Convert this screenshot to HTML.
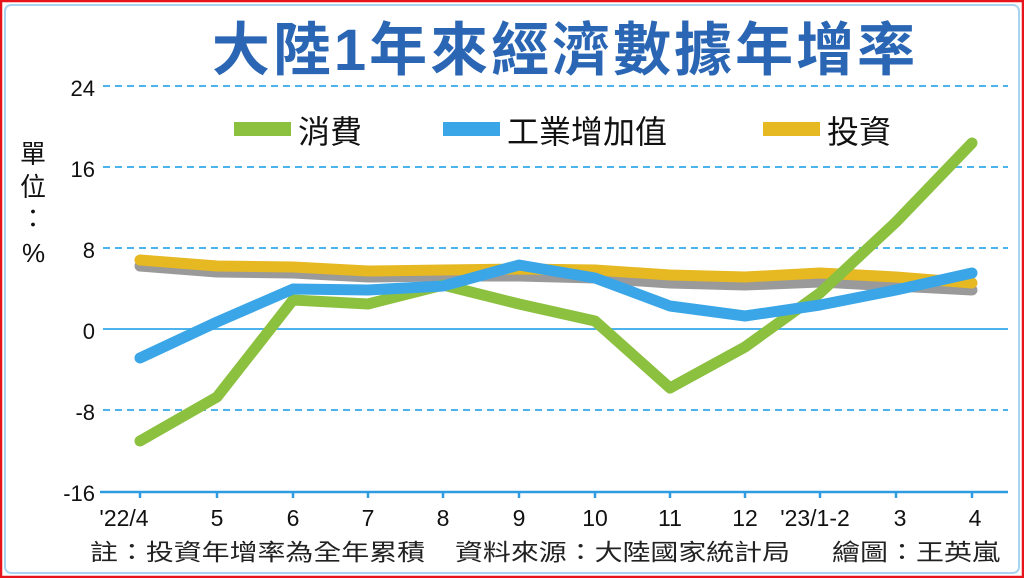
<!DOCTYPE html>
<html><head><meta charset="utf-8"><style>
html,body{margin:0;padding:0;background:#fff;}
svg{display:block;}
text{font-family:"Liberation Sans","Noto Sans CJK TC",sans-serif;}
</style></head><body>
<svg width="1024" height="578" viewBox="0 0 1024 578" xmlns="http://www.w3.org/2000/svg">
<rect x="0" y="0" width="1024" height="578" fill="#fff"/>
<rect x="1" y="1" width="1022" height="576" fill="none" stroke="#e8141b" stroke-width="2.5"/>
<rect x="5" y="5" width="1014" height="568" rx="6" fill="none" stroke="#a8d4f2" stroke-width="2"/>
<text x="565" y="70" font-size="58" font-weight="bold" fill="#2a66b3" text-anchor="middle" letter-spacing="3" font-family="'Noto Sans CJK TC',sans-serif">大陸1年來經濟數據年增率</text>
<g stroke="#4db3ec" stroke-width="2" stroke-dasharray="7,5">
<line x1="103" y1="86" x2="1008" y2="86"/>
<line x1="103" y1="167" x2="1008" y2="167"/>
<line x1="103" y1="248" x2="1008" y2="248"/>
<line x1="103" y1="410" x2="1008" y2="410"/>
</g>
<line x1="103" y1="329" x2="1008" y2="329" stroke="#4db3ec" stroke-width="2"/>
<line x1="100" y1="492" x2="1008" y2="492" stroke="#2f9be0" stroke-width="2.5"/>
<g stroke="#2f9be0" stroke-width="2.5">
<line x1="140" y1="492" x2="140" y2="498"/><line x1="217" y1="492" x2="217" y2="498"/><line x1="293" y1="492" x2="293" y2="498"/><line x1="368" y1="492" x2="368" y2="498"/><line x1="443" y1="492" x2="443" y2="498"/><line x1="519" y1="492" x2="519" y2="498"/><line x1="595" y1="492" x2="595" y2="498"/><line x1="670" y1="492" x2="670" y2="498"/><line x1="745" y1="492" x2="745" y2="498"/><line x1="820" y1="492" x2="820" y2="498"/><line x1="896" y1="492" x2="896" y2="498"/><line x1="972" y1="492" x2="972" y2="498"/>
</g>
<g font-size="22" fill="#111" text-anchor="end">
<text x="95" y="96">24</text><text x="95" y="177">16</text><text x="95" y="258">8</text><text x="95" y="339">0</text><text x="95" y="420">-8</text><text x="95" y="501">-16</text>
</g>
<g font-size="26" fill="#111" font-family="'Noto Sans CJK TC',sans-serif">
<text x="20" y="163">單</text><text x="20" y="196">位</text><text x="20" y="228">：</text><text x="22" y="262" font-family="'Liberation Sans',sans-serif">%</text>
</g>
<g font-size="23" fill="#111" text-anchor="middle">
<text x="124" y="526">'22/4</text><text x="217" y="526">5</text><text x="293" y="526">6</text><text x="368" y="526">7</text><text x="443" y="526">8</text><text x="519" y="526">9</text><text x="595" y="526">10</text><text x="670" y="526">11</text><text x="745" y="526">12</text><text x="815" y="526">'23/1-2</text><text x="900" y="526">3</text><text x="975" y="526">4</text>
</g>
<g font-size="23" fill="#222" font-family="'Noto Sans CJK TC',sans-serif">
<text x="90" y="560" textLength="335" lengthAdjust="spacingAndGlyphs">註：投資年增率為全年累積</text>
<text x="455" y="560" textLength="335" lengthAdjust="spacingAndGlyphs">資料來源：大陸國家統計局</text>
<text x="832" y="560" textLength="168" lengthAdjust="spacingAndGlyphs">繪圖：王英嵐</text>
</g>
<!-- legend -->
<rect x="234" y="122" width="57" height="14" fill="#8cc03f"/>
<text x="298" y="143" font-size="32" fill="#111" font-family="'Noto Sans CJK TC',sans-serif">消費</text>
<rect x="443" y="122" width="57" height="14" fill="#3aa6e8"/>
<text x="507" y="143" font-size="32" fill="#111" font-family="'Noto Sans CJK TC',sans-serif">工業增加值</text>
<rect x="763" y="122" width="57" height="14" fill="#e6b821"/>
<text x="827" y="143" font-size="32" fill="#111" font-family="'Noto Sans CJK TC',sans-serif">投資</text>
<g fill="none" stroke-linejoin="round" stroke-linecap="round" stroke-width="11">
<polyline stroke="#9a9a9a" points="140,266 217,272 293,273 368,277 443,276 519,276 595,278 670,283 745,285 820,282 896,286 972,290"/>
<polyline stroke="#e6b821" points="140,260 217,266 293,267 368,271 443,270 519,269 595,270 670,275 745,277 820,273 896,277 972,283"/>
<polyline stroke="#8cc03f" points="140,441 217,397 293,300 368,304 443,285 519,304 595,321 670,388 745,347 820,293 896,222 972,143"/>
<polyline stroke="#3aa6e8" points="140,358 217,322 293,289 368,290 443,286 519,265 595,278 670,306 745,316 820,305 896,290 972,273"/>
</g>
</svg>
</body></html>
